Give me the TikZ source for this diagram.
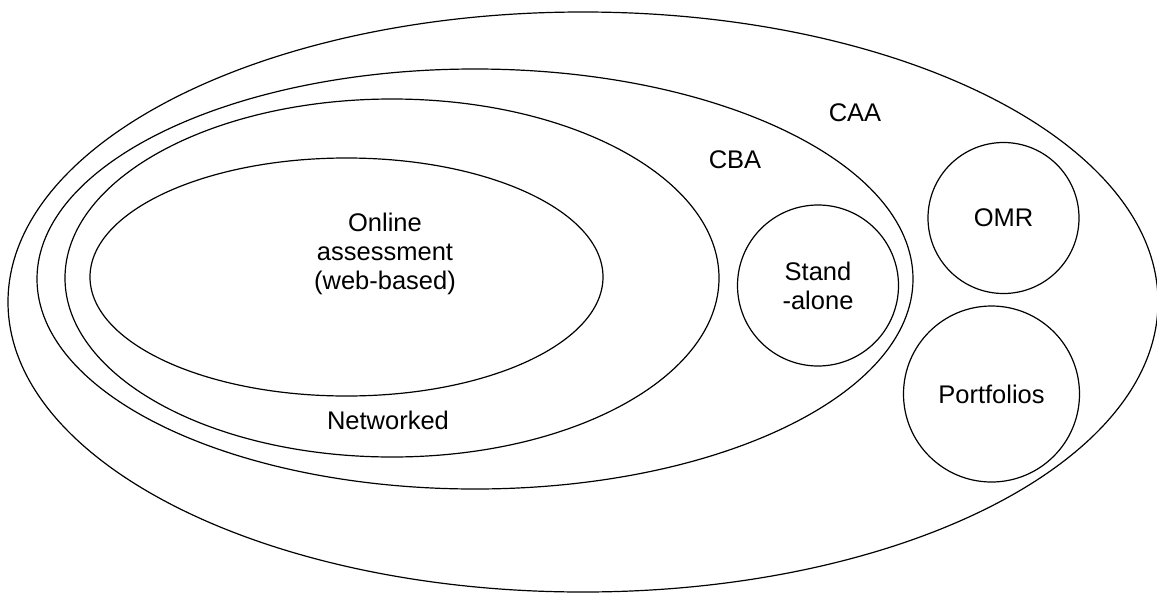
\documentclass[tikz,border=0pt]{standalone}
\usepackage{fontspec}
\setmainfont{Liberation Sans}
\usetikzlibrary{positioning, shapes}

\begin{document}
\begin{tikzpicture}[x=1pt, y=-1pt, line width=1.2pt,
        every node/.style={font=\fontsize{25.5}{29}\selectfont},
        set/.style={draw, ellipse, inner sep=0pt},
        tool/.style={draw, circle, inner sep=0pt, align=center}]
        \useasboundingbox (0,0) rectangle (1157,592);

        % Nested sets
        \node (CAA) [set, minimum width=1150pt, minimum height=580pt] at (583,302) {};
        \node (CBA) [set, minimum width=876pt, minimum height=420pt] at (475,279) {};
        \node (Networked) [set, minimum width=654pt, minimum height=358pt] at (392,278) {};
        \node (Online) [set, minimum width=513pt, minimum height=238pt] at (346.5,277) {};

        % Other kinds
        \node (Standalone) [tool, minimum size=161pt] at (818,285.5) {Stand\\-alone};
        \node (OMR) [tool, minimum size=151pt] at (1003.5,218) {OMR};
        \node (Portfolios) [tool, minimum size=176pt] at (991.5,394) {Portfolios};

        % Labels
        \node (CAAlabel) at (855,113) {CAA};
        \node (CBAlabel) at (735,160) {CBA};
        \node (Netlabel) at (388,420) {Networked};
        \node (Onlinelabel) [align=center] at (385,254) {Online\\assessment\\(web-based)};
    \end{tikzpicture}
\end{document}
